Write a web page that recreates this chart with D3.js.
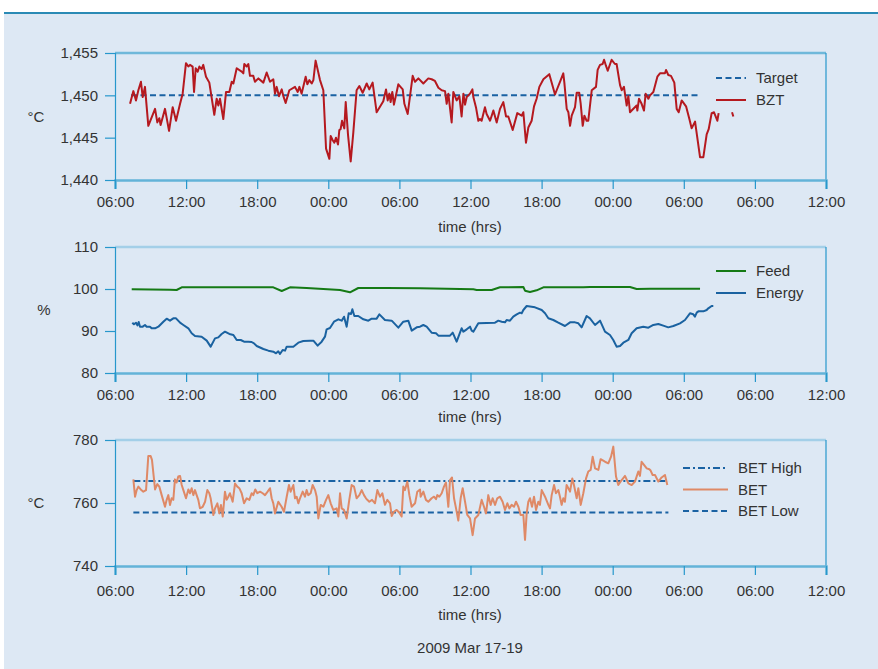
<!DOCTYPE html>
<html><head><meta charset="utf-8">
<script src="https://cdn.jsdelivr.net/npm/d3@7"></script>
<style>
html,body{margin:0;padding:0;background:#fff;}
svg text{font-family:"Liberation Sans",Arial,Helvetica,sans-serif;fill:#333;}
</style></head>
<body>
<svg id="chart" width="878" height="669"></svg>
<script>
// ---- data (hours since 06:00 on Mar 17) ----
const tickHours = [0,6,12,18,24,30,36,42,48,54,60];
const tickLabels = ["06:00","12:00","18:00","00:00","06:00","12:00","18:00","00:00","06:00","06:00","12:00"];
const bztTicks = [1440,1445,1450,1455];
const pctTicks = [80,90,100,110];
const betTicks = [740,760,780];

const target = [[1.35,1450],[49.4,1450]];
const bzt = [[1.27,1449.0],[1.55,1450.5],[1.77,1449.4],[1.97,1450.6],[2.19,1451.6],[2.34,1449.8],[2.53,1451.0],[2.81,1446.4],[3.38,1448.4],[3.57,1446.8],[3.74,1447.3],[3.85,1446.5],[4.22,1448.4],[4.56,1445.8],[4.87,1448.6],[5.15,1447.0],[5.49,1449.0],[5.71,1450.2],[5.99,1453.8],[6.19,1453.4],[6.33,1453.6],[6.55,1453.4],[6.67,1450.4],[6.81,1453.2],[6.98,1452.8],[7.12,1453.4],[7.31,1453.1],[7.45,1453.6],[7.68,1452.2],[7.96,1451.5],[8.38,1447.7],[8.58,1449.6],[8.72,1448.8],[8.86,1449.6],[9.14,1447.2],[9.37,1450.4],[9.65,1450.4],[9.85,1451.6],[9.99,1451.4],[10.27,1453.2],[10.69,1452.8],[10.83,1452.6],[10.91,1453.7],[11.11,1453.4],[11.25,1453.7],[11.39,1452.3],[11.67,1452.3],[11.81,1451.6],[12.10,1452.0],[12.52,1451.5],[12.80,1452.7],[13.08,1451.6],[13.36,1451.9],[13.50,1450.2],[13.64,1451.0],[13.84,1449.9],[14.07,1450.7],[14.21,1449.9],[14.40,1449.1],[14.71,1450.6],[15.19,1451.0],[15.42,1450.4],[15.56,1451.0],[15.75,1450.2],[16.09,1452.2],[16.23,1451.3],[16.40,1451.8],[16.60,1451.4],[16.74,1451.8],[16.93,1454.1],[17.30,1451.8],[17.58,1450.6],[17.81,1443.7],[18.09,1442.5],[18.20,1445.2],[18.37,1444.7],[18.51,1444.4],[18.65,1445.0],[18.82,1444.2],[18.93,1445.9],[19.04,1446.0],[19.16,1447.0],[19.35,1446.1],[19.47,1449.2],[19.66,1445.4],[19.89,1442.2],[20.11,1445.6],[20.39,1450.6],[20.62,1451.1],[20.90,1450.3],[21.24,1451.4],[21.46,1450.7],[21.74,1451.5],[22.08,1448.0],[22.64,1449.3],[22.87,1450.7],[23.01,1449.4],[23.15,1450.2],[23.26,1449.2],[23.40,1450.4],[23.54,1448.9],[23.91,1451.3],[24.28,1450.7],[24.42,1449.0],[24.70,1447.8],[25.12,1452.3],[25.32,1451.6],[25.60,1452.0],[26.02,1451.4],[26.44,1452.0],[26.72,1451.9],[27.00,1451.7],[27.29,1450.9],[27.57,1450.6],[27.85,1450.5],[27.99,1449.0],[28.13,1450.2],[28.41,1446.8],[28.55,1450.4],[28.83,1449.4],[29.06,1449.9],[29.25,1447.5],[29.40,1450.2],[29.54,1448.9],[29.68,1449.8],[29.96,1450.2],[30.16,1450.7],[30.24,1449.8],[30.46,1448.6],[30.66,1447.0],[30.80,1447.2],[30.94,1447.0],[31.22,1448.6],[31.36,1447.8],[31.65,1447.0],[31.93,1448.2],[32.21,1446.8],[32.49,1448.4],[32.77,1449.2],[33.00,1447.5],[33.19,1447.5],[33.56,1445.9],[33.95,1447.9],[34.32,1447.6],[34.46,1448.0],[34.68,1444.4],[34.88,1446.2],[35.16,1447.0],[35.36,1448.7],[35.58,1449.6],[35.81,1451.0],[36.15,1451.9],[36.65,1452.5],[36.99,1450.8],[37.13,1450.1],[37.27,1450.6],[37.61,1451.8],[37.83,1452.6],[37.92,1451.5],[38.12,1448.4],[38.26,1448.0],[38.40,1446.4],[38.54,1447.6],[38.82,1448.6],[38.96,1450.3],[39.18,1450.3],[39.30,1449.0],[39.47,1446.4],[39.61,1447.6],[39.80,1447.0],[39.94,1447.0],[40.23,1450.6],[40.59,1451.0],[40.73,1453.0],[40.93,1453.6],[41.15,1453.7],[41.27,1454.2],[41.43,1453.5],[41.58,1452.9],[41.91,1454.2],[42.19,1453.7],[42.33,1453.7],[42.62,1451.2],[42.76,1450.6],[42.95,1451.0],[43.18,1448.8],[43.32,1449.9],[43.46,1448.0],[43.60,1448.2],[44.02,1448.8],[44.08,1448.2],[44.22,1449.6],[44.44,1449.0],[44.64,1448.2],[44.78,1450.2],[45.01,1449.6],[45.15,1450.0],[45.43,1450.4],[45.77,1452.2],[45.99,1452.6],[46.41,1452.6],[46.50,1453.0],[46.69,1452.4],[46.92,1452.3],[47.20,1451.5],[47.40,1448.4],[47.57,1448.0],[47.82,1449.4],[48.19,1448.7],[48.47,1447.2],[48.66,1446.1],[48.95,1446.9],[49.37,1442.7],[49.65,1442.7],[49.93,1445.4],[50.10,1446.0],[50.35,1447.9],[50.55,1448.0],[50.83,1447.0],[50.94,1447.9],[51.5,null],[52.07,1448.0],[52.18,1447.5]];

const feed = [[1.41,99.92],[4.64,99.84],[5.20,99.76],[5.63,100.40],[13.36,100.40],[14.07,99.52],[14.77,100.40],[16.17,100.24],[18.99,99.76],[19.83,99.21],[20.53,100.24],[22.93,100.24],[25.74,100.16],[30.24,99.92],[30.52,99.76],[31.79,99.76],[32.49,100.40],[34.46,100.48],[34.60,99.60],[35.02,99.29],[35.58,99.68],[36.15,100.40],[39.52,100.40],[40.08,100.48],[43.46,100.48],[44.02,100.0],[45.15,100.08],[49.37,100.08]];

const energy = [[1.46,91.98],[1.60,91.59],[1.77,91.98],[1.89,91.35],[2.00,92.14],[2.11,91.03],[2.34,91.03],[2.53,91.43],[2.67,91.03],[2.95,91.03],[3.09,90.64],[3.38,90.64],[3.66,91.03],[4.08,92.22],[4.36,92.94],[4.64,92.46],[4.92,93.02],[5.15,93.02],[5.49,91.98],[5.77,91.43],[6.19,90.64],[6.47,89.45],[6.75,88.81],[7.31,88.65],[7.74,87.70],[8.07,86.27],[8.44,88.25],[8.72,88.49],[9.00,89.29],[9.28,89.84],[9.65,89.29],[9.99,89.05],[10.27,87.86],[10.61,87.86],[10.89,87.46],[11.25,87.46],[11.53,87.38],[11.73,87.06],[11.96,86.43],[12.52,85.71],[12.94,85.32],[13.36,85.08],[13.59,84.68],[13.78,85.16],[13.92,84.52],[14.15,85.48],[14.35,85.32],[14.49,86.27],[15.05,86.27],[15.47,87.22],[15.89,87.62],[16.46,87.70],[16.74,87.70],[17.10,86.51],[17.44,87.46],[17.72,88.65],[17.86,90.40],[18.14,90.71],[18.48,92.22],[18.85,92.78],[19.13,92.46],[19.33,93.41],[19.55,91.03],[19.72,94.21],[19.92,94.05],[20.03,95.16],[20.20,93.57],[20.53,93.57],[20.96,92.78],[21.38,92.46],[21.66,92.94],[22.08,92.94],[22.31,93.97],[22.78,92.62],[23.35,92.46],[23.91,90.79],[24.33,92.22],[24.75,92.46],[25.04,90.08],[25.46,90.87],[25.74,91.03],[26.02,91.43],[26.30,91.03],[26.72,89.60],[27.09,89.45],[27.29,88.89],[28.27,88.89],[28.50,89.60],[28.83,87.46],[29.25,90.64],[29.40,89.84],[29.68,90.40],[29.96,91.03],[30.10,90.08],[30.24,89.84],[30.66,91.83],[32.07,91.98],[32.35,92.46],[32.63,92.22],[32.91,92.06],[33.05,92.62],[33.33,92.46],[33.61,93.41],[33.90,93.97],[34.18,94.37],[34.32,94.21],[34.46,95.0],[34.74,95.95],[35.44,95.63],[36.01,95.0],[36.29,94.21],[36.57,93.02],[36.99,92.62],[37.41,91.98],[37.97,91.19],[38.40,92.06],[38.82,92.06],[39.10,91.83],[39.38,90.87],[39.80,93.57],[40.08,93.02],[40.51,91.43],[40.93,92.46],[41.35,89.84],[41.77,89.05],[42.05,87.86],[42.33,86.27],[42.62,86.43],[42.90,87.22],[43.32,87.86],[43.60,89.45],[44.02,90.64],[44.58,91.03],[45.01,90.79],[45.43,91.43],[45.85,91.67],[46.27,91.27],[46.69,90.87],[47.12,91.19],[47.68,91.83],[48.10,92.62],[48.52,94.21],[48.80,93.97],[48.94,93.41],[49.09,94.37],[49.23,94.68],[49.65,94.68],[49.93,95.0],[50.07,95.40],[50.35,95.95],[50.49,95.95]];

const betHigh = [[1.55,767],[46.7,767]];
const betLow = [[1.55,757],[46.7,757]];
const bet = [[1.55,767.5],[1.69,762.0],[1.83,764.1],[1.97,765.2],[2.17,764.3],[2.39,763.6],[2.62,764.1],[2.81,774.9],[3.01,774.9],[3.12,773.7],[3.38,764.3],[3.57,766.0],[3.74,765.2],[3.94,762.5],[4.22,758.8],[4.36,761.0],[4.50,762.5],[4.64,759.4],[4.78,761.5],[4.92,761.0],[5.06,767.5],[5.20,766.5],[5.34,768.4],[5.49,768.6],[5.63,765.7],[5.77,764.1],[5.99,761.5],[6.19,764.3],[6.33,763.1],[6.47,764.7],[6.61,762.5],[6.75,764.1],[6.89,762.5],[7.03,761.0],[7.17,758.3],[7.40,758.8],[7.60,760.4],[7.79,764.1],[7.96,763.1],[8.07,761.5],[8.30,756.2],[8.44,758.3],[8.64,759.9],[8.80,756.7],[8.94,759.4],[9.09,755.7],[9.28,763.6],[9.42,761.0],[9.56,762.0],[9.70,763.1],[9.93,760.4],[10.13,766.2],[10.32,765.2],[10.49,764.7],[10.69,763.1],[10.89,759.9],[11.11,761.5],[11.34,761.0],[11.53,763.1],[11.67,762.5],[11.84,764.3],[12.01,763.1],[12.24,763.6],[12.46,763.1],[12.66,762.5],[12.88,763.6],[13.08,764.7],[13.22,761.5],[13.36,759.9],[13.50,756.7],[13.78,760.4],[14.06,758.8],[14.26,757.2],[14.49,762.0],[14.68,765.7],[14.82,763.6],[15.05,765.7],[15.19,761.5],[15.33,762.0],[15.47,759.9],[15.61,761.5],[15.84,763.6],[16.03,762.0],[16.17,764.1],[16.31,762.5],[16.51,763.1],[16.68,765.7],[16.88,764.1],[17.02,762.0],[17.16,755.1],[17.36,759.4],[17.58,758.8],[17.81,761.0],[18.00,762.5],[18.20,759.9],[18.42,757.8],[18.71,758.3],[18.85,755.7],[18.99,763.1],[19.13,758.3],[19.32,757.8],[19.55,755.1],[19.77,761.0],[19.97,765.7],[20.17,765.2],[20.39,761.5],[20.62,762.5],[20.82,764.1],[21.01,762.5],[21.18,761.5],[21.29,761.0],[21.46,760.4],[21.69,761.0],[21.94,759.9],[22.14,764.1],[22.36,762.0],[22.56,763.1],[22.78,759.4],[22.98,761.0],[23.21,759.9],[23.35,755.9],[23.54,757.2],[23.77,757.8],[23.99,756.9],[24.19,755.7],[24.33,765.2],[24.47,764.1],[24.67,766.8],[24.84,762.5],[25.03,758.8],[25.32,759.9],[25.51,763.6],[25.74,764.3],[25.79,762.0],[26.02,763.6],[26.24,761.0],[26.44,760.4],[26.72,761.5],[26.92,762.0],[27.09,761.2],[27.20,762.5],[27.37,762.0],[27.57,763.1],[27.76,765.2],[27.93,766.5],[28.13,758.8],[28.27,767.3],[28.44,768.1],[28.61,761.5],[28.78,758.3],[28.97,754.4],[29.17,761.5],[29.34,764.7],[29.54,760.4],[29.73,756.2],[29.96,755.1],[30.18,749.8],[30.38,755.1],[30.66,756.2],[30.94,761.0],[31.14,758.8],[31.31,756.7],[31.50,762.5],[31.70,759.4],[31.87,761.5],[32.07,759.4],[32.26,761.5],[32.49,762.0],[32.71,760.4],[32.91,757.8],[33.11,759.9],[33.28,758.3],[33.47,759.4],[33.67,758.8],[33.84,760.4],[34.04,758.8],[34.23,756.2],[34.46,756.2],[34.60,748.3],[34.74,756.7],[34.88,760.4],[35.02,761.5],[35.19,758.8],[35.36,762.0],[35.53,757.8],[35.72,760.4],[35.86,759.4],[36.01,764.1],[36.29,762.0],[36.57,759.4],[36.71,758.3],[36.85,762.5],[37.05,765.7],[37.21,763.1],[37.41,764.1],[37.55,762.0],[37.69,759.4],[37.83,761.5],[37.97,760.4],[38.11,765.7],[38.26,764.7],[38.40,763.6],[38.59,767.8],[38.73,765.7],[38.96,761.5],[39.10,764.7],[39.30,759.4],[39.52,763.1],[39.75,767.8],[39.94,770.0],[40.14,770.5],[40.31,774.7],[40.51,771.0],[40.79,770.5],[40.98,773.9],[41.35,773.1],[41.63,772.6],[41.86,774.7],[42.05,777.9],[42.28,768.4],[42.47,765.7],[42.76,767.3],[43.04,768.6],[43.32,766.2],[43.60,765.7],[43.88,766.8],[44.16,770.0],[44.30,768.6],[44.44,773.1],[44.64,772.1],[44.87,771.0],[45.09,770.7],[45.20,770.3],[45.37,768.9],[45.57,768.9],[45.85,766.8],[46.13,768.1],[46.41,768.9],[46.61,765.7]];

// ---- drawing ----
const svg = d3.select("#chart");
const W = 878;
const left = 115, right = 826;
const AXIS = "#63b3d8", TICK = "#2797cc", TXT = "#333";

svg.append("rect").attr("x",4).attr("y",13).attr("width",W-4).attr("height",669-13).attr("fill","#dde8f4");
svg.append("line").attr("x1",4).attr("x2",W).attr("y1",13).attr("y2",13).attr("stroke","#2a8ab5").attr("stroke-width",2);

const x = d3.scaleLinear().domain([0,60]).range([left,right]);

function panel(opt){
  const y = d3.scaleLinear().domain(opt.domain).range([opt.bottom,opt.top]);
  const g = svg.append("g");
  g.append("line").attr("x1",left).attr("x2",right).attr("y1",opt.top).attr("y2",opt.top).attr("stroke",opt.topColor).attr("stroke-width",2.5);
  g.append("line").attr("x1",right).attr("x2",right).attr("y1",opt.top).attr("y2",opt.bottom).attr("stroke",TICK).attr("stroke-width",1.2);
  const xa = g.append("g").attr("transform",`translate(0,${opt.bottom})`)
    .call(d3.axisBottom(x).tickValues(tickHours).tickFormat((d,i)=>tickLabels[i]).tickSize(9).tickPadding(opt.xpad));
  xa.select(".domain").attr("stroke",AXIS).attr("stroke-width",2.5);
  xa.selectAll(".tick line").attr("stroke",TICK).attr("stroke-width",1.2);
  xa.selectAll(".tick text").attr("fill",TXT).style("font-size","15px").attr("font-family","Liberation Sans, Arial, sans-serif");
  const ya = g.append("g").attr("transform",`translate(${left},0)`)
    .call(d3.axisLeft(y).tickValues(opt.ticks).tickFormat(d3.format(",")).tickSize(10).tickPadding(7));
  ya.select(".domain").attr("stroke",TICK).attr("stroke-width",1.2);
  ya.selectAll(".tick line").attr("stroke",TICK).attr("stroke-width",1.2);
  ya.selectAll(".tick text").attr("fill",TXT).style("font-size","15px").attr("font-family","Liberation Sans, Arial, sans-serif");
  g.append("text").attr("x",opt.ytx).attr("y",(opt.top+opt.bottom)/2+5).attr("text-anchor","middle").style("font-size","15px").text(opt.ytitle);
  g.append("text").attr("x",470).attr("y",opt.bottom+opt.xtitle).attr("text-anchor","middle").style("font-size","15px").text("time (hrs)");

  const line = d3.line().defined(d=>d[1]!==null).x(d=>x(d[0])).y(d=>y(d[1]));
  opt.series.forEach(s=>{
    g.append("path").datum(s.data).attr("d",line).attr("fill","none")
      .attr("stroke",s.color).attr("stroke-width",s.width||2).attr("stroke-dasharray",s.dash||null)
      .attr("stroke-linejoin","round");
  });
  opt.legend.forEach((s,i)=>{
    const ly = opt.legY + i*opt.legStep;
    g.append("line").attr("x1",opt.legX).attr("x2",opt.legX+opt.legLen).attr("y1",ly).attr("y2",ly)
      .attr("stroke",s.color).attr("stroke-width",s.width||2).attr("stroke-dasharray",s.dash||null);
    g.append("text").attr("x",opt.legX+opt.legLen+10).attr("y",ly+5).style("font-size","15px").text(s.name);
  });
}

const DASH = "6,3.5", DASHDOT = "7,3,2,3";
const BLUE = "#1a62a3";

const sTarget = {name:"Target", data:target, color:BLUE, dash:DASH};
const sBZT = {name:"BZT", data:bzt, color:"#b5191f"};
panel({domain:[1440,1455], top:53, bottom:180, ticks:bztTicks, ytitle:"°C", ytx:36, xpad:7, xtitle:52, topColor:"#6fb8da",
  series:[sTarget,sBZT], legend:[sTarget,sBZT], legX:716, legLen:30, legY:78, legStep:22});

const sFeed = {name:"Feed", data:feed, color:"#157a15"};
const sEnergy = {name:"Energy", data:energy, color:"#1a62a0"};
panel({domain:[80,110], top:247, bottom:373, ticks:pctTicks, ytitle:"%", ytx:44, xpad:7, xtitle:49, topColor:"#a3cfe8",
  series:[sFeed,sEnergy], legend:[sFeed,sEnergy], legX:716, legLen:30, legY:271, legStep:22});

const sHigh = {name:"BET High", data:betHigh, color:BLUE, dash:DASHDOT};
const sBET = {name:"BET", data:bet, color:"#df8966"};
const sLow = {name:"BET Low", data:betLow, color:BLUE, dash:DASH};
panel({domain:[740,780], top:440, bottom:566, ticks:betTicks, ytitle:"°C", ytx:36, xpad:10, xtitle:54, topColor:"#a3cfe8",
  series:[sHigh,sLow,sBET], legend:[sHigh,sBET,sLow], legX:683, legLen:45, legY:468, legStep:21.5});

svg.append("text").attr("x",470).attr("y",653).attr("text-anchor","middle").style("font-size","15px").text("2009 Mar 17-19");
</script>
</body></html>
